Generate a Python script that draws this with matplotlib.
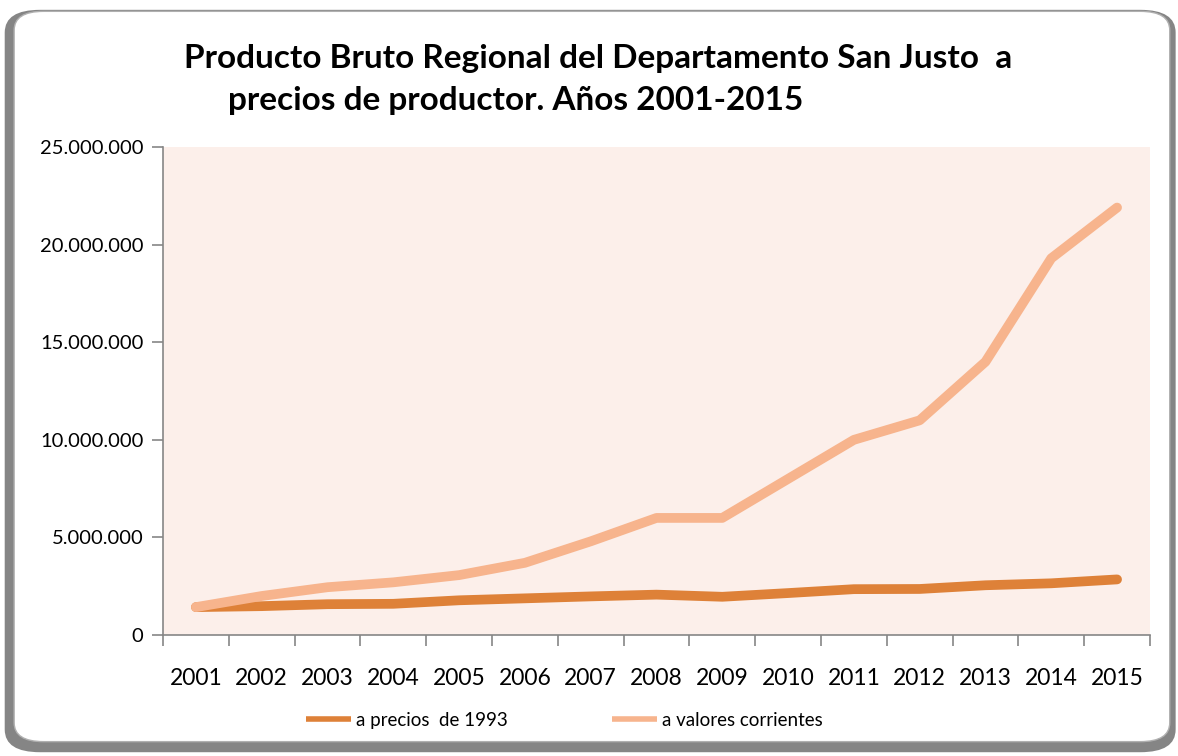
import matplotlib.pyplot as plt
from matplotlib.patches import FancyBboxPatch
from matplotlib.ticker import FuncFormatter

years = ["2001", "2002", "2003", "2004", "2005", "2006", "2007", "2008",
         "2009", "2010", "2011", "2012", "2013", "2014", "2015"]
precios_1993 = [1430000, 1480000, 1580000, 1600000, 1780000, 1880000, 1980000,
                2070000, 1960000, 2150000, 2350000, 2360000, 2550000, 2650000,
                2850000]
valores_corrientes = [1430000, 2000000, 2450000, 2700000, 3070000, 3700000,
                      4800000, 6000000, 6000000, 8000000, 10000000, 11000000,
                      14000000, 19300000, 21900000]

FONT = "Lato"
DARK = "#DE8138"
LIGHT = "#F7B48D"

fig = plt.figure(figsize=(11.78, 7.56), dpi=100)

# rounded chart frame with a grey shadow on the left and bottom
shadow = FancyBboxPatch((0.004, 0.005), 0.994, 0.982, transform=fig.transFigure,
                        boxstyle="round,pad=0,rounding_size=0.03",
                        facecolor="#858585", edgecolor="none", zorder=0)
frame = FancyBboxPatch((0.012, 0.019), 0.981, 0.966, transform=fig.transFigure,
                       boxstyle="round,pad=0,rounding_size=0.025",
                       facecolor="white", edgecolor="#b0b0b0", lw=1.0, zorder=1)
fig.patches.extend([shadow, frame])

ax = fig.add_axes([0.1384, 0.160, 0.8378, 0.6455])
ax.set_zorder(2)
ax.set_facecolor("#FCEFEA")

x = list(range(len(years)))
ax.plot(x, precios_1993, color=DARK, lw=7, solid_capstyle="round",
        solid_joinstyle="round", label="a precios  de 1993", zorder=3)
ax.plot(x, valores_corrientes, color=LIGHT, lw=7, solid_capstyle="round",
        solid_joinstyle="round", label="a valores corrientes", zorder=4)

ax.set_xlim(-0.5, len(years) - 0.5)
ax.set_ylim(0, 25000000)
ax.set_yticks(range(0, 25000001, 5000000))
ax.yaxis.set_major_formatter(FuncFormatter(lambda v, p: f"{int(v):,}".replace(",", ".")))
ax.set_xticks(x)
ax.set_xticklabels(years)
ax.set_xticks([i - 0.5 for i in range(len(years) + 1)], minor=True)
ax.tick_params(axis="x", which="major", length=0, pad=24)
ax.tick_params(axis="x", which="minor", length=8, color="#868686", width=1.2)
ax.tick_params(axis="y", length=8, color="#868686", width=1.2, pad=6)
for lab in ax.get_xticklabels():
    lab.set_fontfamily(FONT)
    lab.set_fontsize(16.5)
for lab in ax.get_yticklabels():
    lab.set_fontfamily(FONT)
    lab.set_fontsize(14.5)
for side in ["top", "right"]:
    ax.spines[side].set_visible(False)
for side in ["left", "bottom"]:
    ax.spines[side].set_color("#868686")
    ax.spines[side].set_linewidth(1.2)

fig.text(0.508, 0.923, "Producto Bruto Regional del Departamento San Justo  a",
         ha="center", va="center", fontsize=24, fontweight="bold", family=FONT)
fig.text(0.438, 0.867, "precios de productor. Años 2001-2015",
         ha="center", va="center", fontsize=24, fontweight="bold", family=FONT)

leg = fig.legend(loc="center", bbox_to_anchor=(0.479, 0.047), ncol=2,
                 frameon=False, prop={"family": FONT, "size": 13.5},
                 handlelength=2.4, handletextpad=0.25, columnspacing=5.6)
for line in leg.get_lines():
    line.set_linewidth(4)
    line.set_solid_capstyle("butt")

fig.savefig("out.png", dpi=100)
